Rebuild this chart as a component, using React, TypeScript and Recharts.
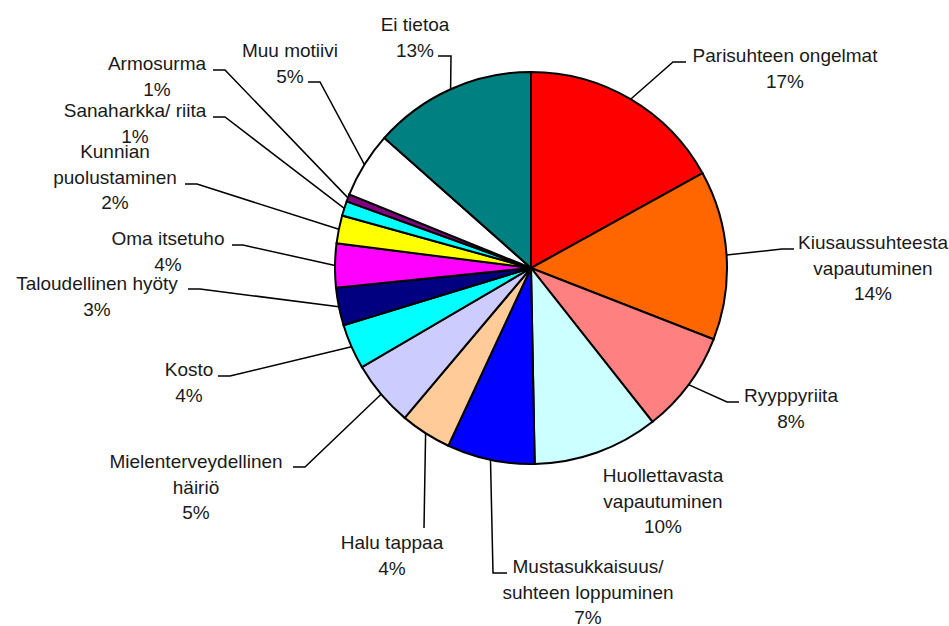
import React from 'react';
import { PieChart, Pie, Cell } from 'recharts';

// motive categories, clockwise from 12 o'clock
const motives = [
  'Parisuhteen ongelmat',
  'Kiusaussuhteesta\nvapautuminen',
  'Ryyppyriita',
  'Huollettavasta\nvapautuminen',
  'Mustasukkaisuus/\nsuhteen loppuminen',
  'Halu tappaa',
  'Mielenterveydellinen\nhäiriö',
  'Kosto',
  'Taloudellinen hyöty',
  'Oma itsetuho',
  'Kunnian\npuolustaminen',
  'Sanaharkka/ riita',
  'Armosurma',
  'Muu motiivi',
  'Ei tietoa',
];

// share of cases (%)
const shares = [16.9, 13.9, 8.4, 10.3, 7.2, 4.2, 5.4, 3.7, 3.1, 3.6, 2.3, 1.2, 0.6, 5.4, 13.4];

const sliceColors = [
  '#FF0000', '#FF6600', '#FF8080', '#CCFFFF', '#0000FF', '#FFCC99', '#CCCCFF', '#00FFFF',
  '#000080', '#FF00FF', '#FFFF00', '#00FFFF', '#800080', '#FFFFFF', '#008080',
];

// where each label sits (text centre x, first baseline y) and the elbow of its leader line
const labelLayout = [
  { tx: 785, ty: 62, ex: 673, ey: 62, hx: 686 },
  { tx: 873, ty: 249, ex: 782, ey: 249, hx: 794 },
  { tx: 791, ty: 402, ex: 727, ey: 402, hx: 739 },
  { tx: 663, ty: 482, ex: null, ey: null, hx: null },
  { tx: 588, ty: 573, ex: 493, ey: 573, hx: 507 },
  { tx: 392, ty: 549, ex: 424, ey: 528, hx: null },
  { tx: 196, ty: 468, ex: 305, ey: 467, hx: 293 },
  { tx: 189, ty: 376, ex: 230, ey: 376, hx: 218 },
  { tx: 97, ty: 290, ex: 200, ey: 289, hx: 188 },
  { tx: 168, ty: 245, ex: 243, ey: 245, hx: 232 },
  { tx: 115, ty: 158, ex: 197, ey: 184, hx: 185 },
  { tx: 135, ty: 117, ex: 225, ey: 117, hx: 213 },
  { tx: 157, ty: 70, ex: 225, ey: 70, hx: 213 },
  { tx: 290, ty: 57, ex: 320, ey: 82, hx: 308 },
  { tx: 415, ty: 31, ex: 451, ey: 56, hx: 438 },
];

const data = motives.map((name, i) => ({ name, value: shares[i] }));

const RAD = Math.PI / 180;

const renderLabel = (props: any) => {
  const { cx, cy, midAngle, outerRadius, index, percent, name } = props;
  const lay = labelLayout[index];
  const lines = String(name).split('\n').concat(`${Math.round(percent * 100)}%`);
  const sx = cx + outerRadius * Math.cos(-midAngle * RAD);
  const sy = cy + outerRadius * Math.sin(-midAngle * RAD);
  let points = '';
  if (lay.ex !== null) {
    points = `${sx},${sy} ${lay.ex},${lay.ey}`;
    if (lay.hx !== null) points += ` ${lay.hx},${lay.ey}`;
  }
  return (
    <g key={`lbl-${index}`}>
      {points && <polyline points={points} fill="none" stroke="#000" strokeWidth={1.5} />}
      <text
        x={lay.tx}
        y={lay.ty}
        textAnchor="middle"
        fill="#1a1a1a"
        fontSize={19}
        fontFamily="'Liberation Sans', Arial, sans-serif"
      >
        {lines.map((ln, k) => (
          <tspan key={k} x={lay.tx} dy={k === 0 ? 0 : 25.5}>
            {ln}
          </tspan>
        ))}
      </text>
    </g>
  );
};

const App = () => {
  return (
    <div style={{ position: 'absolute', left: 0, top: 0, width: 949, height: 626, background: '#fff' }}>
      <PieChart width={949} height={626} margin={{ top: 0, right: 0, bottom: 0, left: 0 }}>
        <Pie
          data={data}
          dataKey="value"
          nameKey="name"
          cx={531}
          cy={268}
          outerRadius={196}
          startAngle={90}
          endAngle={-270}
          stroke="#000"
          strokeWidth={2}
          label={renderLabel}
          labelLine={false}
          isAnimationActive={false}
        >
          {data.map((d, i) => (
            <Cell key={d.name} fill={sliceColors[i]} />
          ))}
        </Pie>
      </PieChart>
    </div>
  );
};

export default App;
